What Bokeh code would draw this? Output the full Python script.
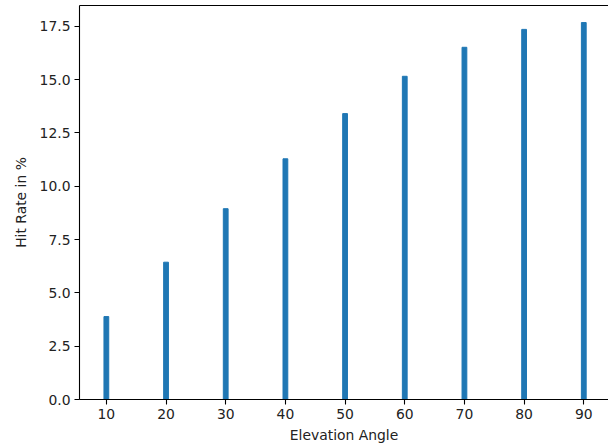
from bokeh.plotting import figure
from bokeh.models import Range1d, FixedTicker, LinearAxis, CustomJSTickFormatter
from bokeh.embed import file_html
from bokeh.resources import INLINE

angles = [10, 20, 30, 40, 50, 60, 70, 80, 90]
hit_rates = [3.89, 6.44, 8.95, 11.29, 13.41, 15.16, 16.52, 17.36, 17.68]
x_ticks = [10, 20, 30, 40, 50, 60, 70, 80, 90]
y_ticks = [0.0, 2.5, 5.0, 7.5, 10.0, 12.5, 15.0, 17.5]

FONT = "DejaVu Sans"
FS = "13.9px"
p = figure(width=608, height=447, output_backend="svg", toolbar_location=None,
           x_range=Range1d(5.5, 94.14), y_range=Range1d(0, 18.48))
p.min_border_left = 79
p.min_border_right = 0
p.min_border_top = 5
p.min_border_bottom = 48
p.outline_line_color = None
p.background_fill_color = "white"
p.border_fill_color = "white"
p.grid.visible = False

p.vbar(x=angles, top=hit_rates, width=0.8, color="#1f77b4")

for ax in (p.xaxis[0], p.yaxis[0]):
    ax.axis_line_color = "black"
    ax.axis_line_width = 1.1
    ax.major_tick_line_color = "black"
    ax.major_tick_line_width = 1.1
    ax.major_tick_out = 5
    ax.major_tick_in = 0
    ax.minor_tick_line_color = None
    ax.major_label_text_font = FONT
    ax.major_label_text_font_size = FS
    ax.major_label_text_color = "#222222"
    ax.axis_label_text_font = FONT
    ax.axis_label_text_font_size = FS
    ax.axis_label_text_font_style = "normal"
    ax.axis_label_text_color = "#222222"

p.xaxis.ticker = FixedTicker(ticks=x_ticks)
p.yaxis.ticker = FixedTicker(ticks=y_ticks)
p.yaxis.formatter = CustomJSTickFormatter(code="return tick.toFixed(1);")
p.xaxis.axis_label = "Elevation Angle"
p.yaxis.axis_label = "Hit Rate in %"
p.xaxis.major_label_standoff = 4
p.yaxis.major_label_standoff = 4
p.xaxis.axis_label_standoff = 5
p.yaxis.axis_label_standoff = 8

top = LinearAxis(ticker=FixedTicker(ticks=[]), axis_line_color="black", axis_line_width=1.1,
                 major_label_text_font_size="0px", major_tick_line_color=None,
                 minor_tick_line_color=None)
p.add_layout(top, "above")

open("out.html", "w").write(file_html(p, INLINE))
